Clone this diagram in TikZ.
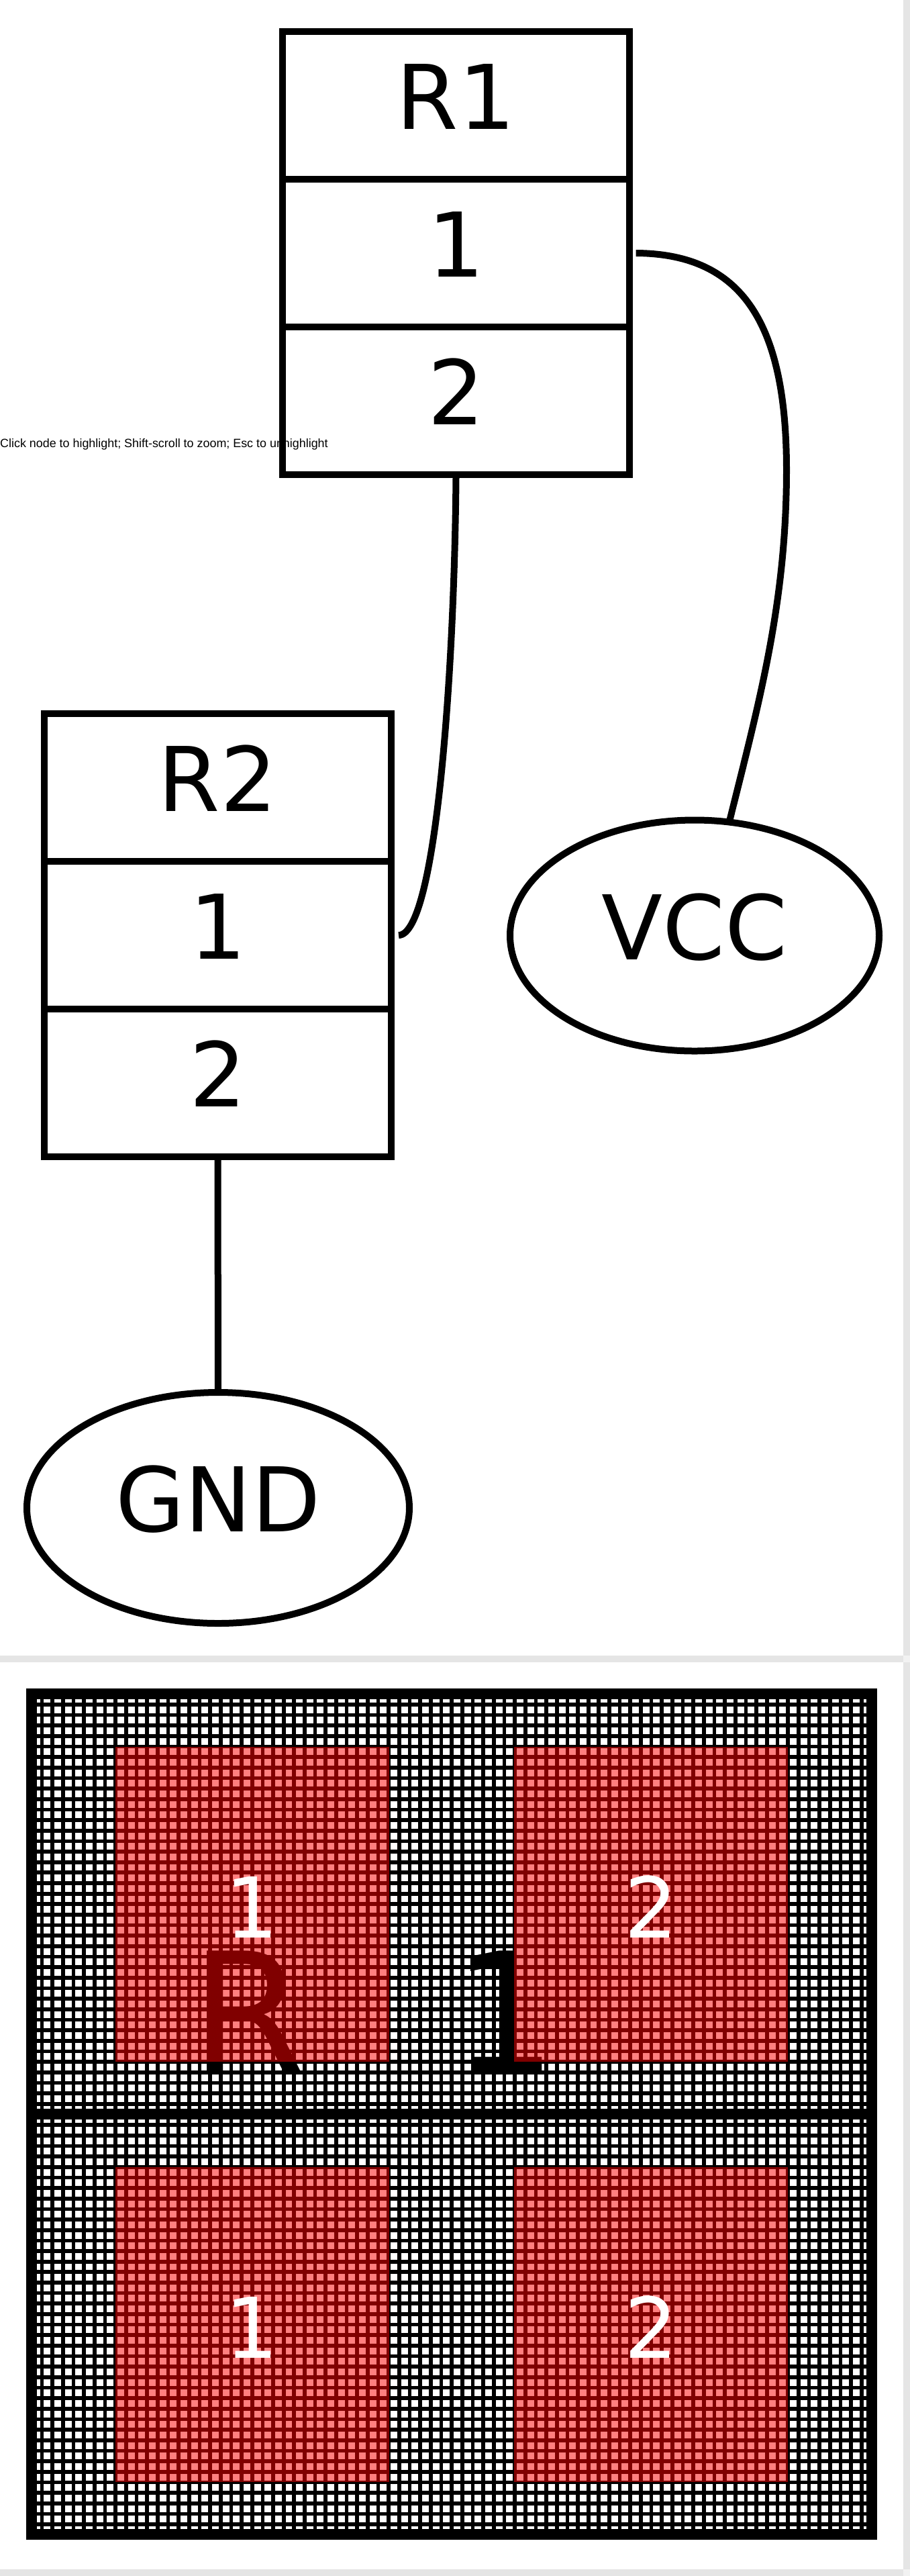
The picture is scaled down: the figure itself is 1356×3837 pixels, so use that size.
\documentclass[tikz,border=0pt]{standalone}
\usepackage{fontspec}
\setmainfont{DejaVu Sans}
\newfontfamily\hintfont{Liberation Sans}
\usetikzlibrary{arrows.meta, positioning, shapes.geometric}
\tikzset{
  cell/.style={rectangle,draw,line width=10pt,inner sep=0pt,outer sep=0pt,minimum width=517pt,minimum height=220pt,
    text height=70pt,text depth=0pt,font=\fontsize{133}{133}\selectfont},
  net/.style={ellipse,draw,line width=10pt,inner sep=0pt,outer sep=0pt,
    text height=71pt,text depth=0pt,font=\fontsize{133}{133}\selectfont},
  wire/.style={line width=10pt},
  band/.style={fill=black!10,draw=none},
  corner/.style={fill=black!5,draw=none},
  gridline/.style={line width=5.7pt},
  frame/.style={line width=15.6pt},
  pad/.style={rectangle,fill=red,fill opacity=0.5,text opacity=1,text=white,inner sep=0pt,outer sep=0pt,
    minimum width=408pt,minimum height=469.5pt,text height=100pt,text depth=0pt,
    font=\fontsize{125}{125}\selectfont}
}
\begin{document}
\begin{tikzpicture}[x=1pt,y=-1pt,node distance=0pt]
\useasboundingbox (0,0) rectangle (1356,3837);
% page bands
\fill[band] (1346,0) rectangle (1356,3837);
\fill[band] (0,2466) rectangle (1346,2476);
\fill[band] (0,3827) rectangle (1346,3837);
\fill[corner] (1346,2466) rectangle (1356,2476);
\fill[corner] (1346,3827) rectangle (1356,3837);
\node[anchor=base west,inner sep=0pt,font=\hintfont\fontsize{17.9}{17.9}\selectfont] (hint) at (0,666) {Click node to highlight; Shift-scroll to zoom; Esc to unhighlight};
% schematic
\node[cell] (r1t) at (679.5,157) {R1};
\node[cell, below=of r1t] (r1a) {1};
\node[cell, below=of r1a] (r1b) {2};
\node[cell] (r2t) at (324.5,1173) {R2};
\node[cell, below=of r2t] (r2a) {1};
\node[cell, below=of r2a] (r2b) {2};
\node[net, minimum width=550pt, minimum height=344pt] (vcc) at (1035,1393.5) {VCC};
\node[net, minimum width=570pt, minimum height=344pt] (gnd) at (325,2246) {GND};
\draw[wire] ([xshift=9.6pt]r1a.east) .. controls (1105,378) and (1172,480) .. (1172,700) .. controls (1172,900) and (1130,1050) .. (vcc.73.5);
\draw[wire] ([yshift=-5pt]r1b.south) .. controls (677,1000) and (650,1393) .. ([xshift=11pt]r2a.east);
\draw[wire] ([yshift=-5pt]r2b.south) -- (gnd.north);
% board
\foreach \i in {0,...,78} {
  \draw[gridline] ({62.6+15.655*\i},2525) -- ({62.6+15.655*\i},3772);
}
\foreach \j in {0,...,78} {
  \draw[gridline] (44,{2538.8+15.657*\j}) -- (1302,{2538.8+15.657*\j});
}
\draw[frame] (46.8,2522.8) rectangle (1299.2,3775.2);
\draw[frame] (39,3149) -- (1307,3149);
\node[anchor=base west,inner sep=0pt,font=\fontsize{245}{245}\selectfont] (ref) at (284,3084.5) {R\hspace{220pt}1};
\node[pad] (p1) at (375.5,2836.3) {1};
\node[pad] (p2) at (970,2836.3) {2};
\node[pad] (p3) at (375.5,3462.3) {1};
\node[pad] (p4) at (970,3462.3) {2};
\end{tikzpicture}
\end{document}
